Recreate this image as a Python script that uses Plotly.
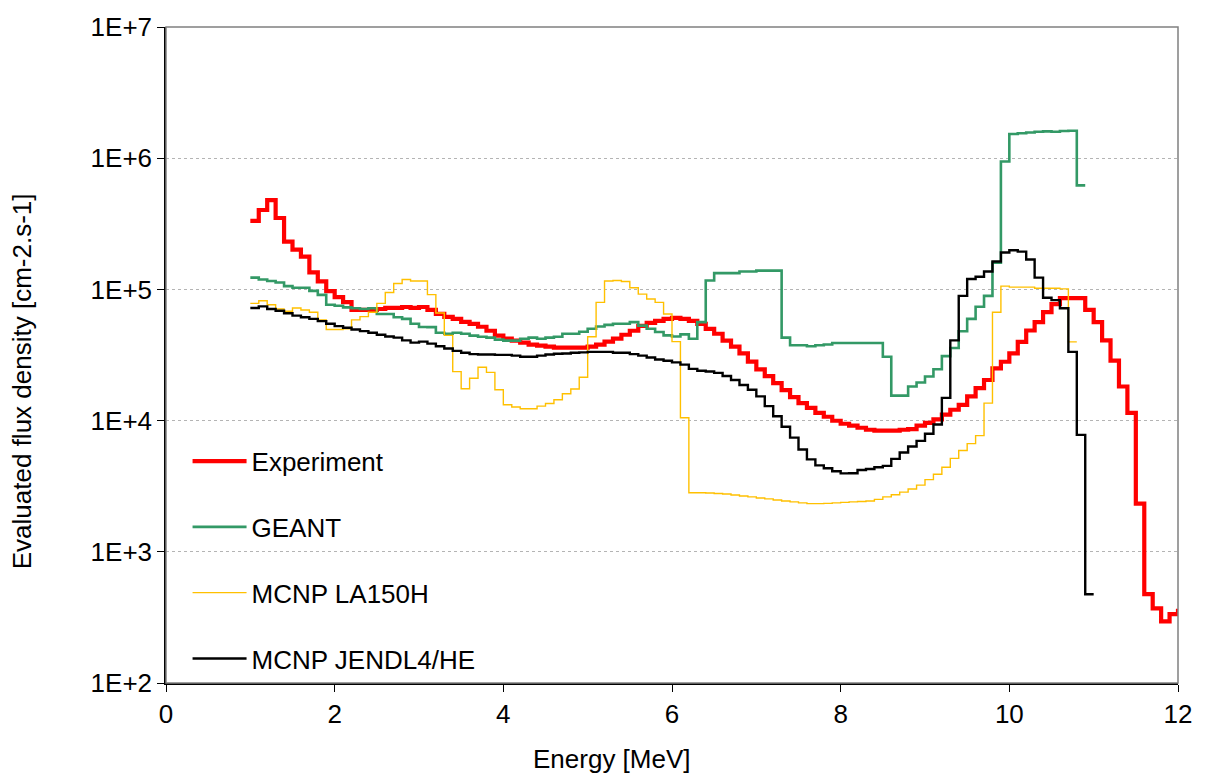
import plotly.graph_objects as go

# Bin start energies (MeV), 0.1 MeV bins
def bins(start, stop):
    n = int(round((stop - start) / 0.1)) + 1
    return [round(start + 0.1 * i, 1) for i in range(n)]

exp_x = bins(1.0, 12.0)
experiment = [
    3.33e5, 4.03e5, 4.79e5, 3.50e5, 2.31e5, 2.01e5, 1.78e5, 1.35e5, 1.15e5, 9.7e4,
    8.73e4, 8.01e4, 6.97e4, 6.97e4, 6.97e4, 7.09e4, 7.22e4, 7.22e4, 7.34e4, 7.22e4,
    7.34e4, 6.97e4, 6.50e4, 6.17e4, 5.96e4, 5.66e4, 5.47e4, 5.19e4, 4.84e4, 4.44e4,
    4.21e4, 4.07e4, 3.93e4, 3.80e4, 3.73e4, 3.66e4, 3.60e4, 3.60e4, 3.60e4, 3.60e4,
    3.66e4, 3.80e4, 4.00e4, 4.21e4, 4.51e4, 4.84e4, 5.28e4, 5.56e4, 5.76e4, 5.96e4,
    6.06e4, 5.96e4, 5.76e4, 5.47e4, 5.01e4, 4.59e4, 4.07e4, 3.66e4, 3.25e4, 2.82e4,
    2.46e4, 2.18e4, 1.93e4, 1.71e4, 1.51e4, 1.36e4, 1.25e4, 1.145e4, 1.07e4, 9.97e3,
    9.46e3, 9.14e3, 8.82e3, 8.52e3, 8.38e3, 8.38e3, 8.38e3, 8.52e3, 8.60e3, 9.14e3,
    9.62e3, 1.02e4, 1.11e4, 1.21e4, 1.32e4, 1.53e4, 1.77e4, 2.04e4, 2.50e4, 2.81e4,
    3.25e4, 3.98e4, 4.86e4, 5.63e4, 6.70e4, 7.73e4, 8.58e4, 8.58e4, 8.58e4, 6.97e4,
    5.63e4, 4.09e4, 2.86e4, 1.82e4, 1.145e4, 2.33e3, 475, 370, 295, 335,
    368,
]

geant_x = bins(1.0, 10.9)
geant = [
    1.23e5, 1.19e5, 1.16e5, 1.13e5, 1.06e5, 1.03e5, 1.03e5, 9.74e4, 9.09e4, 7.64e4,
    7.51e4, 7.30e4, 7.18e4, 7.09e4, 7.18e4, 6.50e4, 6.50e4, 6.14e4, 5.96e4, 5.47e4,
    5.17e4, 5.16e4, 4.67e4, 4.59e4, 4.67e4, 4.59e4, 4.44e4, 4.36e4, 4.29e4, 4.14e4,
    4.07e4, 4.07e4, 4.21e4, 4.29e4, 4.21e4, 4.29e4, 4.36e4, 4.59e4, 4.59e4, 4.76e4,
    5.01e4, 5.21e4, 5.37e4, 5.47e4, 5.47e4, 5.63e4, 5.30e4, 5.01e4, 4.73e4, 4.46e4,
    4.38e4, 4.54e4, 4.21e4, 5.63e4, 1.17e5, 1.33e5, 1.33e5, 1.33e5, 1.37e5, 1.37e5,
    1.39e5, 1.39e5, 1.39e5, 4.29e4, 3.75e4, 3.75e4, 3.69e4, 3.75e4, 3.80e4, 3.90e4,
    3.90e4, 3.90e4, 3.90e4, 3.90e4, 3.90e4, 3.07e4, 1.55e4, 1.55e4, 1.82e4, 1.95e4,
    2.17e4, 2.46e4, 3.10e4, 3.58e4, 4.80e4, 5.96e4, 7.38e4, 8.93e4, 1.60e5, 9.43e5,
    1.53e6, 1.55e6, 1.57e6, 1.59e6, 1.60e6, 1.59e6, 1.61e6, 1.62e6, 6.21e5, 6.21e5,
]

la150h_x = bins(1.0, 10.8)
la150h = [
    7.83e4, 8.19e4, 7.64e4, 7.09e4, 6.81e4, 7.22e4, 6.97e4, 6.70e4, 5.86e4, 4.95e4,
    4.95e4, 5.01e4, 5.86e4, 6.20e4, 6.70e4, 7.83e4, 9.48e4, 1.11e5, 1.19e5, 1.16e5,
    1.16e5, 9.12e4, 6.61e4, 4.46e4, 2.36e4, 1.75e4, 2.10e4, 2.55e4, 2.33e4, 1.72e4,
    1.32e4, 1.27e4, 1.23e4, 1.23e4, 1.29e4, 1.35e4, 1.44e4, 1.60e4, 1.74e4, 2.14e4,
    4.36e4, 7.97e4, 1.16e5, 1.17e5, 1.15e5, 1.03e5, 9.20e4, 8.44e4, 7.97e4, 6.50e4,
    4.00e4, 1.05e4, 2.82e3, 2.82e3, 2.81e3, 2.78e3, 2.76e3, 2.71e3, 2.66e3, 2.62e3,
    2.57e3, 2.53e3, 2.48e3, 2.44e3, 2.40e3, 2.36e3, 2.33e3, 2.33e3, 2.34e3, 2.36e3,
    2.38e3, 2.40e3, 2.42e3, 2.44e3, 2.51e3, 2.62e3, 2.72e3, 2.85e3, 3.01e3, 3.22e3,
    3.55e3, 3.90e3, 4.41e3, 5.15e3, 5.92e3, 6.68e3, 7.68e3, 1.36e4, 6.70e4, 1.06e5,
    1.04e5, 1.04e5, 1.04e5, 1.02e5, 1.02e5, 1.02e5, 1.01e5, 3.98e4, 3.98e4,
]

jendl_x = bins(1.0, 11.0)
jendl = [
    7.22e4, 7.43e4, 7.09e4, 6.88e4, 6.58e4, 6.31e4, 6.14e4, 5.96e4, 5.73e4, 5.47e4,
    5.25e4, 5.10e4, 4.95e4, 4.81e4, 4.67e4, 4.51e4, 4.38e4, 4.29e4, 4.09e4, 3.93e4,
    4.00e4, 3.86e4, 3.69e4, 3.54e4, 3.40e4, 3.29e4, 3.21e4, 3.19e4, 3.19e4, 3.17e4,
    3.17e4, 3.13e4, 3.07e4, 3.07e4, 3.13e4, 3.19e4, 3.23e4, 3.25e4, 3.29e4, 3.31e4,
    3.34e4, 3.34e4, 3.34e4, 3.29e4, 3.29e4, 3.21e4, 3.13e4, 3.03e4, 2.92e4, 2.86e4,
    2.78e4, 2.67e4, 2.48e4, 2.40e4, 2.37e4, 2.31e4, 2.19e4, 2.04e4, 1.87e4, 1.72e4,
    1.53e4, 1.29e4, 1.08e4, 8.98e3, 7.42e3, 6.02e3, 5.06e3, 4.56e3, 4.33e3, 4.11e3,
    3.96e3, 3.97e3, 4.20e3, 4.28e3, 4.41e3, 4.52e3, 5.11e3, 5.72e3, 6.34e3, 7.00e3,
    7.93e3, 9.35e3, 1.49e4, 4.09e4, 8.93e4, 1.20e5, 1.25e5, 1.37e5, 1.63e5, 1.91e5,
    1.99e5, 1.94e5, 1.69e5, 1.23e5, 8.63e4, 8.29e4, 7.19e4, 3.34e4, 7.79e3, 475,
    475,
]

y_tickvals = [1e2, 1e3, 1e4, 1e5, 1e6, 1e7]
y_ticktext = ["1E+2", "1E+3", "1E+4", "1E+5", "1E+6", "1E+7"]
x_tickvals = [0, 2, 4, 6, 8, 10, 12]

series = [
    ("Experiment", exp_x, experiment, "#FF0000", 4.2),
    ("GEANT", geant_x, geant, "#339966", 2.6),
    ("MCNP LA150H", la150h_x, la150h, "#FFC000", 1.4),
    ("MCNP JENDL4/HE", jendl_x, jendl, "#000000", 2.4),
]

fig = go.Figure()
for i, (name, xs, ys, col, w) in enumerate(series):
    fig.add_trace(go.Scatter(
        x=xs, y=ys, name=name, mode="lines", line_shape="hv",
        line=dict(color=col, width=w), legendgroup=f"g{i}",
    ))

FONT = "Liberation Sans, Arial, sans-serif"
fig.update_layout(
    width=1205, height=781,
    margin=dict(l=166, r=27, t=20, b=98),
    paper_bgcolor="white", plot_bgcolor="white",
    font=dict(family=FONT, size=26, color="black"),
    showlegend=True,
    legend=dict(
        x=0.0213, y=0.374, xanchor="left", yanchor="top",
        bgcolor="rgba(0,0,0,0)", font=dict(size=26),
        tracegroupgap=29, itemwidth=54,
    ),
    xaxis=dict(
        range=[0, 12], tickvals=x_tickvals, ticks="outside", ticklen=7,
        tickcolor="black", showline=True, linecolor="black", linewidth=1.5,
        showgrid=False, zeroline=False, tickfont=dict(size=26),
    ),
    yaxis=dict(
        type="log", range=[2, 7], tickvals=y_tickvals, ticktext=y_ticktext,
        ticks="outside", ticklen=7, tickcolor="black", showline=True,
        linecolor="black", linewidth=1.5, showgrid=True, gridcolor="#B4B4B4",
        griddash="dot", gridwidth=1, zeroline=False, tickfont=dict(size=26),
    ),
    shapes=[dict(type="rect", xref="paper", yref="paper", x0=0, x1=1, y0=0, y1=1,
                 line=dict(color="#808080", width=1.5), layer="above")],
    annotations=[
        dict(text="Energy [MeV]", xref="paper", yref="paper",
             x=0.4407, y=-0.116, xanchor="center", yanchor="middle",
             showarrow=False, font=dict(size=26)),
        dict(text="Evaluated flux density [cm-2.s-1]", xref="paper", yref="paper",
             x=-0.1423, y=0.46, xanchor="center", yanchor="middle",
             textangle=-90, showarrow=False, font=dict(size=26)),
    ],
)

fig.write_html("out.html")
